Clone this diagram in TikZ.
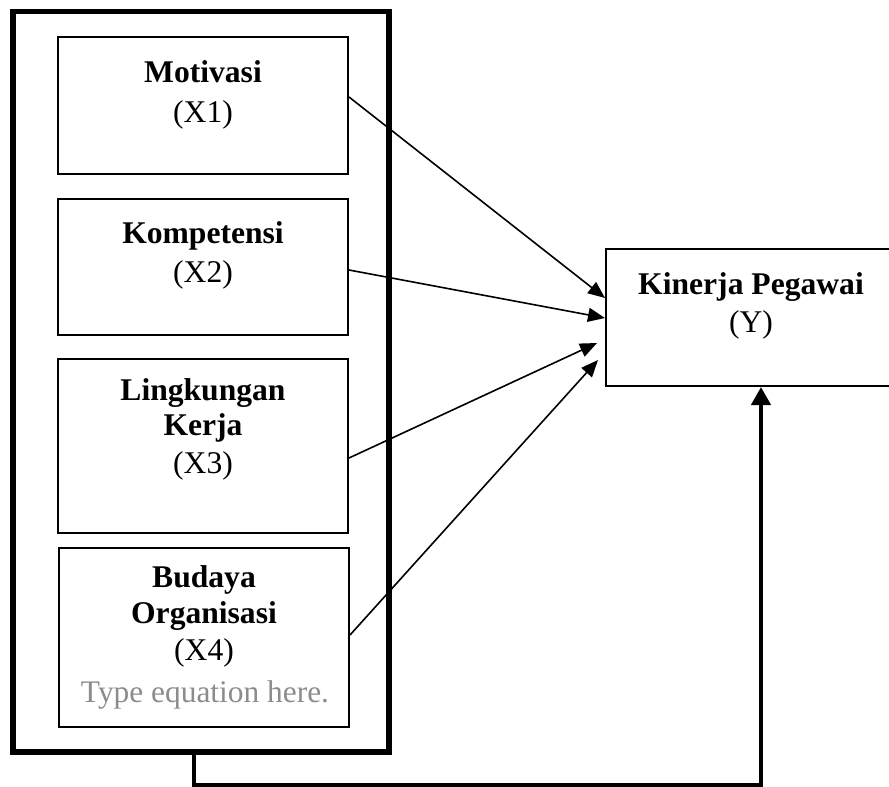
\documentclass[tikz,border=0pt]{standalone}
\usepackage{fontspec}
\setmainfont{Liberation Serif}
\usetikzlibrary{arrows.meta,calc}
\begin{document}
\begin{tikzpicture}[x=0.5pt,y=-0.5pt,
 box/.style={draw, line width=1pt, minimum width=145pt, inner sep=0pt},
 outerbox/.style={draw, line width=2.6pt, inner sep=0pt},
 lbl/.style={anchor=base, inner sep=0pt, font=\fontsize{15.8}{18}\selectfont\bfseries},
 sub/.style={anchor=base, inner sep=0pt, font=\fontsize{15.8}{18}\selectfont},
 hint/.style={anchor=base, inner sep=0pt, text=black!45, font=\fontsize{15.7}{18}\selectfont},
 arr/.style={line width=0.8pt, -{Triangle[length=8.5pt,width=7pt]}},
 feed/.style={line width=2.1pt, -{Triangle[length=9pt,width=9.5pt]}}]
\useasboundingbox (0,0) rectangle (889,787);

% outer frame
\node[outerbox, minimum width=188pt, minimum height=370.25pt] (outer) at (201,381.75) {};

% inner boxes
\node[box, minimum height=68.5pt] (x1) at (203,105.5) {};
\node[box, minimum height=68pt] (x2) at (203,267) {};
\node[box, minimum height=87pt] (x3) at (203,446) {};
\node[box, minimum height=89.5pt] (x4) at (204,637.5) {};
\node[box, minimum width=144.5pt, minimum height=68.5pt] (y) at (750.5,317.5) {};

% texts
\node[lbl] (t1a) at (203,82) {Motivasi};
\node[sub] (t1b) at (203,122) {(X1)};
\node[lbl] (t2a) at (203,243) {Kompetensi};
\node[sub] (t2b) at (203,282) {(X2)};
\node[lbl] (t3a) at (203,400) {Lingkungan};
\node[lbl] (t3b) at (203,435) {Kerja};
\node[sub] (t3c) at (203,473) {(X3)};
\node[lbl] (t4a) at (204,587) {Budaya};
\node[lbl] (t4b) at (204,623) {Organisasi};
\node[sub] (t4c) at (204,660) {(X4)};
\node[hint] (t4d) at (205,702) {Type equation here.};
\node[lbl] (tya) at (751,294) {Kinerja Pegawai};
\node[sub] (tyb) at (751,332) {(Y)};

% arrows
\draw[arr] ($(x1.east)+(0,-8.5)$) -- ($(y.west)+(0,-19.5)$);
\draw[arr] ($(x2.east)+(0,3)$) -- ($(y.west)+(0,0.5)$);
\draw[arr] ($(x3.east)+(0,12)$) -- ($(y.west)+(-8,25.5)$);
\draw[arr] ($(x4.east)+(0,-2.5)$) -- ($(y.west)+(-7,42.5)$);

% feedback connector
\coordinate (c1) at (194,785);
\coordinate (c2) at (761,785);
\draw[feed] (c1 |- outer.south) -- (c1) -- (c2) -- (c2 |- y.south);
\end{tikzpicture}
\end{document}
